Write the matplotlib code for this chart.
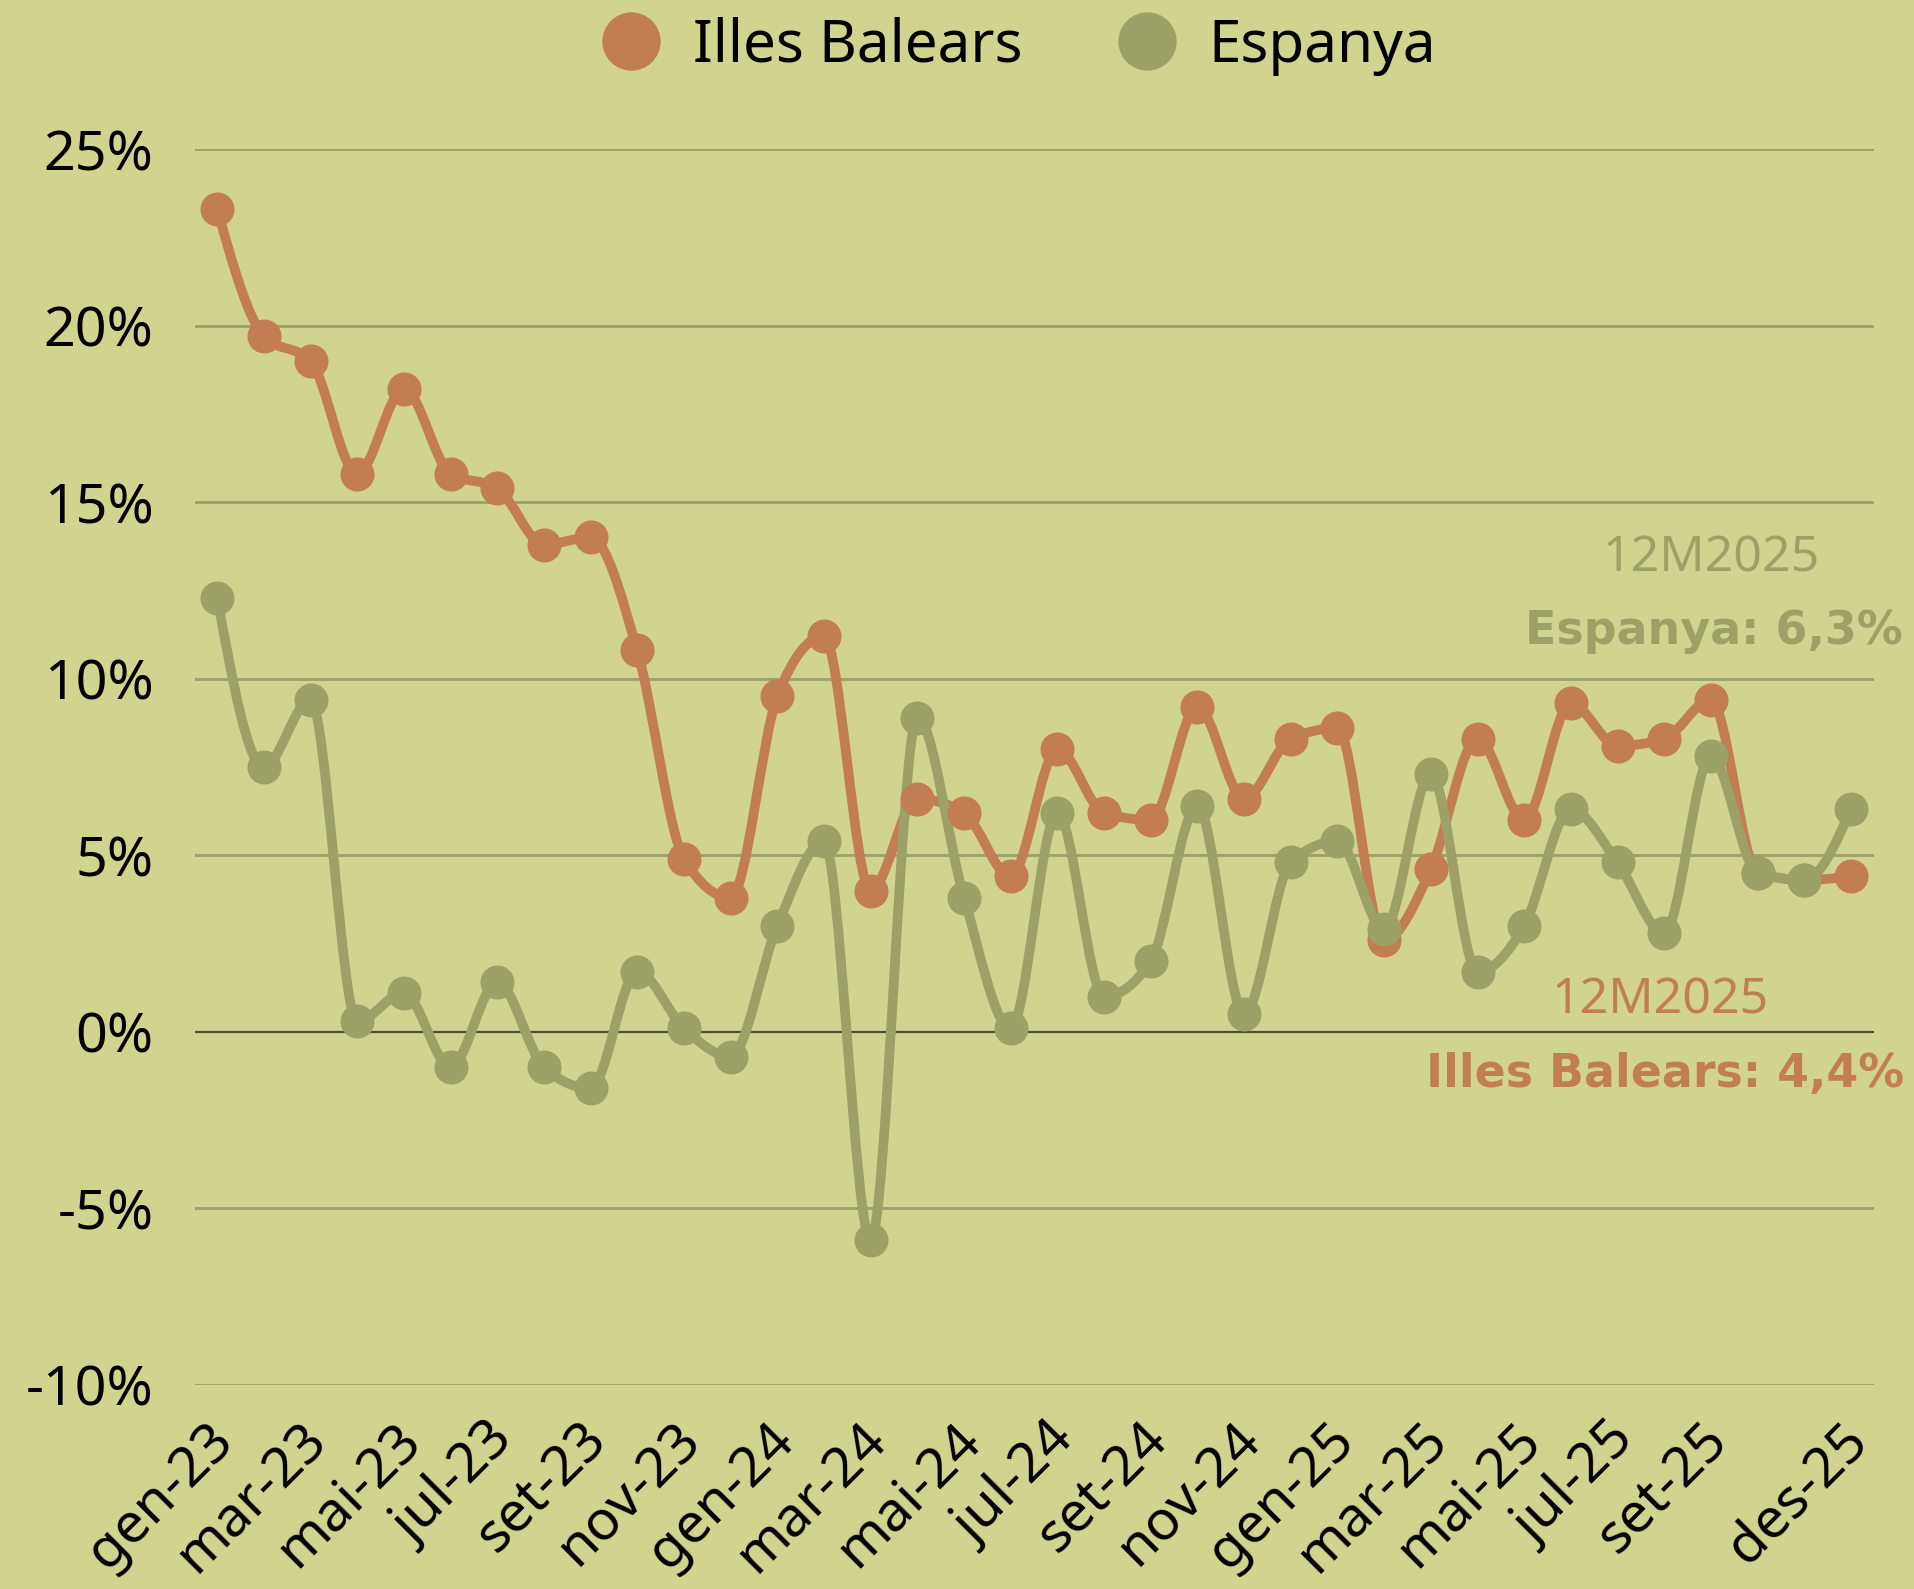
import numpy as np
import matplotlib
matplotlib.use("Agg")
import matplotlib.pyplot as plt
from matplotlib.path import Path
from matplotlib.patches import PathPatch
from matplotlib.lines import Line2D
from matplotlib.transforms import ScaledTranslation

plt.rcParams['font.family'] = ['Noto Sans', 'DejaVu Sans']

# months gen-23 .. des-25
months = ['gen-23', 'feb-23', 'mar-23', 'abr-23', 'mai-23', 'jun-23', 'jul-23', 'ago-23',
          'set-23', 'oct-23', 'nov-23', 'des-23',
          'gen-24', 'feb-24', 'mar-24', 'abr-24', 'mai-24', 'jun-24', 'jul-24', 'ago-24',
          'set-24', 'oct-24', 'nov-24', 'des-24',
          'gen-25', 'feb-25', 'mar-25', 'abr-25', 'mai-25', 'jun-25', 'jul-25', 'ago-25',
          'set-25', 'oct-25', 'nov-25', 'des-25']

balears = [23.3, 19.7, 19.0, 15.8, 18.2, 15.8, 15.4, 13.8, 14.0, 10.8, 4.9, 3.8,
           9.5, 11.2, 4.0, 6.6, 6.2, 4.4, 8.0, 6.2, 6.0, 9.2, 6.6, 8.3,
           8.6, 2.6, 4.6, 8.3, 6.0, 9.3, 8.1, 8.3, 9.4, 4.5, 4.3, 4.4]

espanya = [12.3, 7.5, 9.4, 0.3, 1.1, -1.0, 1.4, -1.0, -1.6, 1.7, 0.1, -0.7,
           3.0, 5.4, -5.9, 8.9, 3.8, 0.1, 6.2, 1.0, 2.0, 6.4, 0.5, 4.8,
           5.4, 2.9, 7.3, 1.7, 3.0, 6.3, 4.8, 2.8, 7.8, 4.5, 4.3, 6.3]

shown_ticks = ['gen-23', 'mar-23', 'mai-23', 'jul-23', 'set-23', 'nov-23',
               'gen-24', 'mar-24', 'mai-24', 'jul-24', 'set-24', 'nov-24',
               'gen-25', 'mar-25', 'mai-25', 'jul-25', 'set-25', 'des-25']

BG = '#D1D48F'
ORANGE = '#C27D52'
GREEN = '#9CA265'


def monotone_path(x, y):
    # cubic bezier path through the points, monotone-x style smoothing
    x = np.asarray(x, float)
    y = np.asarray(y, float)
    n = len(x)
    h = np.diff(x)
    s = np.diff(y) / h
    t = np.zeros(n)
    for i in range(1, n - 1):
        p = (s[i - 1] * h[i] + s[i] * h[i - 1]) / (h[i - 1] + h[i])
        t[i] = (np.sign(s[i - 1]) + np.sign(s[i])) * min(abs(s[i - 1]), abs(s[i]), 0.5 * abs(p))
    t[0] = (3 * s[0] - t[1]) / 2
    t[-1] = (3 * s[-1] - t[-2]) / 2
    verts = [(x[0], y[0])]
    codes = [Path.MOVETO]
    for i in range(n - 1):
        dx = h[i] / 3
        verts += [(x[i] + dx, y[i] + dx * t[i]),
                  (x[i + 1] - dx, y[i + 1] - dx * t[i + 1]),
                  (x[i + 1], y[i + 1])]
        codes += [Path.CURVE4] * 3
    return Path(verts, codes)


fig = plt.figure(figsize=(19.14, 15.89), dpi=100, facecolor=BG)
ax = fig.add_axes([0.102, 0.1284, 0.877, 0.7778])
ax.set_facecolor(BG)

xs = np.arange(len(months))

for vals, col in [(balears, ORANGE), (espanya, GREEN)]:
    ax.add_patch(PathPatch(monotone_path(xs, vals), fill=False, edgecolor=col,
                           linewidth=7, capstyle='round', joinstyle='round', zorder=3))
for vals, col in [(balears, ORANGE), (espanya, GREEN)]:
    ax.plot(xs, vals, linestyle='None', marker='o', markersize=24.5,
            color=col, markeredgewidth=0, zorder=4)

ax.set_xlim(-0.47, 35.49)
ax.set_ylim(-10, 25)

yt = [-10, -5, 0, 5, 10, 15, 20, 25]
for v in yt:
    if v == 0:
        ax.axhline(v, color='#4B5035', linewidth=1.6, zorder=2)
    else:
        ax.axhline(v, color='#9AA06A', linewidth=2, zorder=1)
ax.set_yticks(yt)
ax.set_yticklabels([f'{v}%' for v in yt], fontsize=40)
ax.tick_params(axis='y', length=0, pad=30)

ax.set_xticks([months.index(m) for m in shown_ticks])
ax.set_xticklabels(shown_ticks, fontsize=40, rotation=45, ha='right',
                   rotation_mode='anchor', va='center')
ax.tick_params(axis='x', length=0, pad=34)
shift = ScaledTranslation(8 / 100, 0, fig.dpi_scale_trans)
for lab in ax.get_xticklabels():
    lab.set_transform(lab.get_transform() + shift)

for sp in ax.spines.values():
    sp.set_visible(False)

# annotations at the right
fig.text(1711 / 1914, 1 - 559 / 1589, '12M2025', fontsize=36, color=GREEN,
         ha='center', va='center')
fig.text(1903 / 1914, 1 - 632 / 1589, 'Espanya: 6,3%', fontsize=33, color=GREEN,
         ha='right', va='center', fontweight='bold', family='DejaVu Sans')
fig.text(1660 / 1914, 1 - 1001 / 1589, '12M2025', fontsize=36, color=ORANGE,
         ha='center', va='center')
fig.text(1904 / 1914, 1 - 1074 / 1589, 'Illes Balears: 4,4%', fontsize=33, color=ORANGE,
         ha='right', va='center', fontweight='bold', family='DejaVu Sans')

handles = [Line2D([0], [0], marker='o', linestyle='None', markersize=42,
                  color=ORANGE, markeredgewidth=0, label='Illes Balears'),
           Line2D([0], [0], marker='o', linestyle='None', markersize=42,
                  color=GREEN, markeredgewidth=0, label='Espanya')]
fig.legend(handles=handles, loc='center', bbox_to_anchor=(0.5325, 1 - 46 / 1589), ncol=2,
           frameon=False, fontsize=42, handletextpad=0.55, columnspacing=1.65,
           handlelength=1.0)

fig.savefig('out.png', dpi=100, facecolor=BG)
